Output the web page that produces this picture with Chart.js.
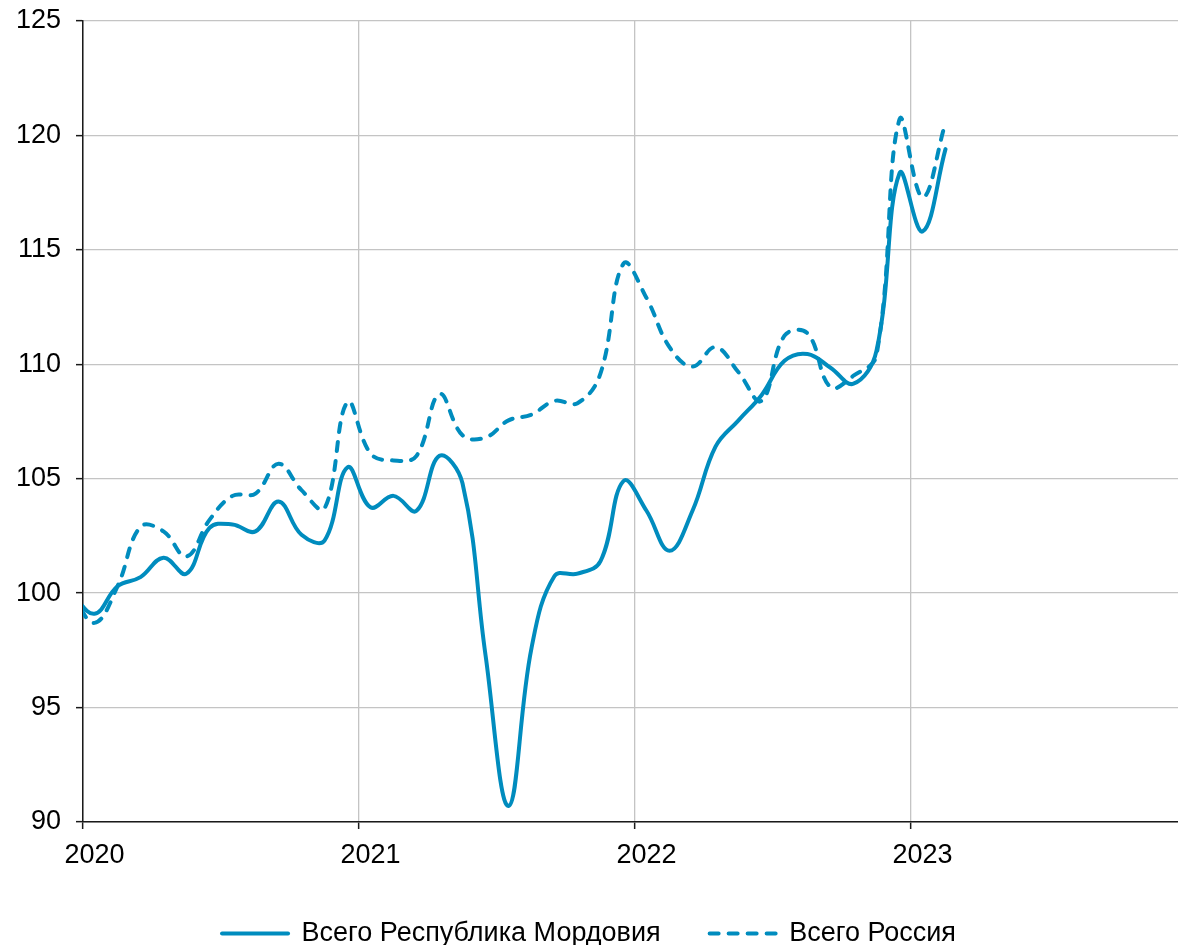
<!DOCTYPE html>
<html lang="ru">
  <head>
    <title>Всего Республика Мордовия и Всего Россия</title>
    <meta charset="UTF-8" />
    <style>
      body { margin: 0; background: #fff; }
      #myChart { display: block; }
    </style>
  </head>
  <body>
    <canvas id="myChart" width="1178" height="945"></canvas>
    <script src="https://cdn.jsdelivr.net/npm/chart.js@4.4.0/dist/chart.umd.min.js"></script>
    <script>
      // месяцы: декабрь 2019 — февраль 2023
      var months = [
        "2019-12",
        "2020-01", "2020-02", "2020-03", "2020-04", "2020-05", "2020-06",
        "2020-07", "2020-08", "2020-09", "2020-10", "2020-11", "2020-12",
        "2021-01", "2021-02", "2021-03", "2021-04", "2021-05", "2021-06",
        "2021-07", "2021-08", "2021-09", "2021-10", "2021-11", "2021-12",
        "2022-01", "2022-02", "2022-03", "2022-04", "2022-05", "2022-06",
        "2022-07", "2022-08", "2022-09", "2022-10", "2022-11", "2022-12",
        "2023-01", "2023-02"
      ];
      var mordovia = [
        100.0,
        99.1, 100.3, 100.7, 101.55, 100.85, 102.85, 103.0, 102.7, 104.0, 102.55, 102.3, 105.5,
        103.75, 104.25, 103.6, 106.0, 104.8, 97.3, 90.7, 97.6, 100.75, 100.85, 101.4, 104.9,
        103.6, 101.85, 103.6, 106.4, 107.55, 108.65, 110.15, 110.45, 109.85, 109.15, 110.6, 118.35,
        115.8, 119.4
      ];
      var russia = [
        100.0,
        98.7, 100.3, 102.9, 102.7, 101.6, 103.2, 104.25, 104.35, 105.65, 104.5, 103.7, 108.35,
        106.1, 105.8, 106.0, 108.7, 106.9, 106.8, 107.55, 107.8, 108.4, 108.3, 109.6, 114.4,
        112.9, 110.75, 109.9, 110.75, 109.65, 108.4, 111.25, 111.35, 109.0, 109.5, 110.4, 120.7,
        117.3, 120.55
      ];
      var yearLabels = ["2020", "2021", "2022", "2023"];
      var seriesNames = ["Всего Республика Мордовия", "Всего Россия"];

      var lineColor = "#008cbe";
      var font = { family: "'Liberation Sans', Arial, sans-serif", size: 27 };

      // точка месяца стоит в середине месяца, 0 = начало января 2020
      function toPoints(values) {
        return values.map(function (v, i) {
          var parts = months[i].split("-");
          var m = (parseInt(parts[0], 10) - 2020) * 12 + parseInt(parts[1], 10) - 1;
          return { x: m + 0.5, y: v };
        });
      }

      // образец линии в легенде берём из самой серии (с пунктиром)
      function legendLabels(chart) {
        var items = Chart.defaults.plugins.legend.labels.generateLabels(chart);
        items.forEach(function (item) {
          var ds = chart.data.datasets[item.datasetIndex];
          item.lineDash = ds.borderDash || [];
          item.lineWidth = ds.borderWidth;
          item.strokeStyle = ds.borderColor;
          item.lineCap = "round";
        });
        return items;
      }

      var ctx = document.getElementById("myChart");
      var myChart = new Chart(ctx, {
        type: "line",
        data: {
          datasets: [
            {
              label: seriesNames[0],
              data: toPoints(mordovia),
              borderColor: lineColor,
              backgroundColor: lineColor,
              borderWidth: 4,
              borderCapStyle: "round",
              pointRadius: 0,
              tension: 0.4,
            },
            {
              label: seriesNames[1],
              data: toPoints(russia),
              borderColor: lineColor,
              backgroundColor: lineColor,
              borderWidth: 4,
              borderDash: [9, 10],
              borderCapStyle: "round",
              pointRadius: 0,
              tension: 0.4,
            },
          ],
        },
        options: {
          responsive: false,
          animation: false,
          layout: { padding: { top: 21, right: 0, left: 0, bottom: -12 } },
          plugins: {
            tooltip: { enabled: false },
            legend: {
              position: "bottom",
              labels: {
                usePointStyle: true,
                pointStyle: "line",
                pointStyleWidth: 66,
                padding: 49,
                color: "#000",
                font: font,
                generateLabels: legendLabels,
              },
            },
          },
          scales: {
            x: {
              type: "linear",
              min: 0,
              max: 1095 / 23,
              afterBuildTicks: function (scale) {
                scale.ticks = yearLabels.map(function (y, i) {
                  return { value: i * 12 };
                });
              },
              afterFit: function (scale) {
                scale.height = 49;
              },
              ticks: {
                callback: function (value) {
                  return yearLabels[value / 12];
                },
                labelOffset: 11.5,
                maxRotation: 0,
                autoSkip: false,
                padding: 10,
                color: "#000",
                font: font,
              },
              grid: {
                color: "#c4c4c4",
                lineWidth: 1.3,
                tickColor: "#1a1a1a",
                tickLength: 7,
                tickWidth: 1.5,
              },
              border: { color: "#1a1a1a", width: 1.5 },
            },
            y: {
              min: 90,
              max: 125,
              afterFit: function (scale) {
                scale.width = 83;
                scale.paddingTop = 0;
                scale.paddingBottom = 0;
              },
              ticks: {
                stepSize: 5,
                padding: 15,
                color: "#000",
                font: font,
              },
              grid: {
                color: "#c4c4c4",
                lineWidth: 1.3,
                tickColor: "#1a1a1a",
                tickLength: 7,
                tickWidth: 1.5,
              },
              border: { color: "#1a1a1a", width: 1.5 },
            },
          },
        },
      });
    </script>
  </body>
</html>
